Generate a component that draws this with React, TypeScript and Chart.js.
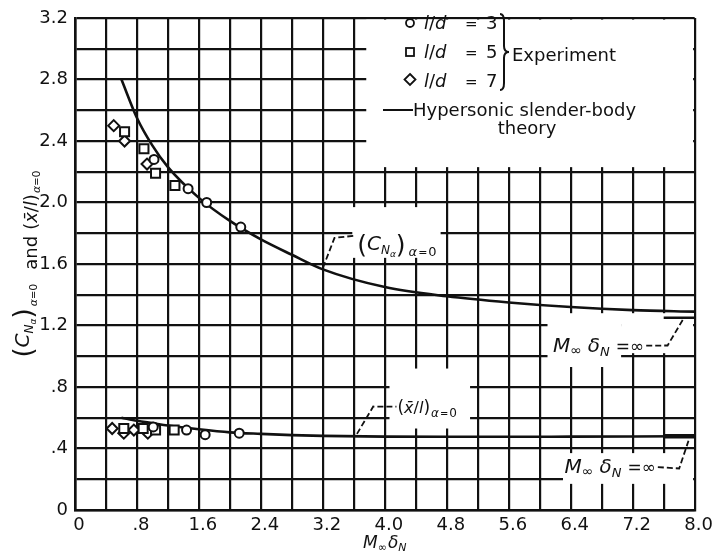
import React, { useEffect, useRef } from "react";
import { Chart, registerables } from "chart.js";

Chart.register(...registerables);

// ---------- axis grid / tick labels ----------
const xGridValues = [0, 0.4, 0.8, 1.2, 1.6, 2.0, 2.4, 2.8, 3.2, 3.6, 4.0, 4.4, 4.8, 5.2, 5.6, 6.0, 6.4, 6.8, 7.2, 7.6, 8.0];
const xTickLabels = ["0", "", ".8", "", "1.6", "", "2.4", "", "3.2", "", "4.0", "", "4.8", "", "5.6", "", "6.4", "", "7.2", "", "8.0"];
const yGridValues = [0, 0.2, 0.4, 0.6, 0.8, 1.0, 1.2, 1.4, 1.6, 1.8, 2.0, 2.2, 2.4, 2.6, 2.8, 3.0, 3.2];
const yTickLabels = ["0", "", ".4", "", ".8", "", "1.2", "", "1.6", "", "2.0", "", "2.4", "", "2.8", "", "3.2"];

// ---------- hypersonic slender-body theory ----------
const theoryX = [0.6, 0.8, 1.0, 1.2, 1.6, 2.0, 2.4, 2.8, 3.2, 4.0, 4.8, 5.6, 6.4, 7.2, 8.0];
const theoryCN = [2.8, 2.55, 2.37, 2.23, 2.03, 1.88, 1.76, 1.66, 1.565, 1.45, 1.39, 1.35, 1.32, 1.3, 1.29];
const theoryXbar = [0.6, 0.58, 0.565, 0.55, 0.525, 0.505, 0.495, 0.487, 0.482, 0.477, 0.476, 0.476, 0.477, 0.478, 0.48];

// M∞δN = ∞ limits
const infinityX = [7.6, 8.0];
const cnInfinity = 1.25;
const xbarInfinity = 0.48;

// ---------- experiment ----------
// l/d = 3 (circles)
const circleCNX = [1.02, 1.46, 1.7, 2.14];
const circleCN = [2.28, 2.09, 2.0, 1.84];
const circleXbarX = [1.01, 1.44, 1.68, 2.12];
const circleXbar = [0.54, 0.52, 0.49, 0.5];
// l/d = 5 (squares)
const squareCNX = [0.64, 0.89, 1.04, 1.29];
const squareCN = [2.46, 2.35, 2.19, 2.11];
const squareXbarX = [0.63, 0.88, 1.04, 1.28];
const squareXbar = [0.53, 0.53, 0.52, 0.52];
// l/d = 7 (diamonds)
const diamondCNX = [0.5, 0.64, 0.93];
const diamondCN = [2.5, 2.4, 2.25];
const diamondXbarX = [0.48, 0.63, 0.76, 0.94];
const diamondXbar = [0.53, 0.5, 0.52, 0.5];

// ---------- annotation anchors (data units) ----------
const cnLeader = [[3.2, 1.575], [3.35, 1.77], [3.63, 1.785]];
const xbarLeader = [[3.64, 0.495], [3.85, 0.673], [4.15, 0.672]];
const mInfUpperAt = [6.17, 1.03];
const mInfUpperLeader = [[7.65, 1.07], [7.85, 1.24]];
const mInfLowerAt = [6.32, 0.24];
const mInfLowerLeader = [[7.8, 0.27], [7.92, 0.45]];
// white paste-over patches [xMin, xMax, yMin, yMax]
const patchRects = [
  [3.76, 8.0, 2.23, 3.2],
  [3.58, 4.72, 1.64, 1.97],
  [4.06, 5.1, 0.53, 0.92],
  [6.1, 7.05, 0.93, 1.28],
  [7.05, 8.0, 1.02, 1.28],
  [6.3, 8.0, 0.17, 0.37],
];

const INK = "#111";
const FAM = '"DejaVu Sans"';

type Seg = { t: string; size: number; italic?: boolean; dy?: number; gap?: number };

function segFont(s: Seg) {
  return `${s.italic ? "italic " : ""}${s.size}px ${FAM}`;
}

function richWidth(ctx: CanvasRenderingContext2D, segs: Seg[]) {
  let w = 0;
  for (const s of segs) {
    ctx.font = segFont(s);
    w += (s.gap || 0) + ctx.measureText(s.t).width;
  }
  return w;
}

function drawRich(ctx: CanvasRenderingContext2D, x: number, y: number, segs: Seg[], center = false) {
  let cx = center ? x - richWidth(ctx, segs) / 2 : x;
  ctx.textBaseline = "alphabetic";
  ctx.textAlign = "left";
  for (const s of segs) {
    ctx.font = segFont(s);
    cx += s.gap || 0;
    ctx.fillText(s.t, cx, y + (s.dy || 0));
    cx += ctx.measureText(s.t).width;
  }
  return cx;
}

const toPts = (xs: number[], ys: number[]) => xs.map((x, i) => ({ x, y: ys[i] }));

const annotPlugin = {
  id: "annot",
  beforeDatasetsDraw(chart: any) {
    const { ctx, chartArea: a } = chart;
    const sx = chart.scales.x;
    const sy = chart.scales.y;
    ctx.save();
    ctx.fillStyle = "#fff";
    for (const [x0, x1, y0, y1] of patchRects) {
      const l = Math.max(sx.getPixelForValue(x0), a.left + 1.6);
      const r = Math.min(sx.getPixelForValue(x1), a.right - 1.6);
      const t = Math.max(sy.getPixelForValue(y1), a.top + 1.6);
      const b = Math.min(sy.getPixelForValue(y0), a.bottom - 1.6);
      ctx.fillRect(l, t, r - l, b - t);
    }
    ctx.restore();
  },
  afterDatasetsDraw(chart: any) {
    const { ctx, chartArea: a } = chart;
    const sx = chart.scales.x;
    const sy = chart.scales.y;
    const P = (p: number[]) => [sx.getPixelForValue(p[0]), sy.getPixelForValue(p[1])];
    ctx.save();
    ctx.fillStyle = INK;
    ctx.strokeStyle = INK;

    // ---- legend ----
    const L = a.left;
    const T = a.top;
    ctx.lineWidth = 1.8;
    ctx.beginPath();
    ctx.arc(L + 335, T + 5, 4, 0, Math.PI * 2);
    ctx.stroke();
    ctx.strokeRect(L + 331, T + 30, 8, 8);
    ctx.beginPath();
    ctx.moveTo(L + 335, T + 56);
    ctx.lineTo(L + 340.5, T + 61.5);
    ctx.lineTo(L + 335, T + 67);
    ctx.lineTo(L + 329.5, T + 61.5);
    ctx.closePath();
    ctx.stroke();
    const rows = [["3", 11], ["5", 40], ["7", 69]] as [string, number][];
    for (const [n, dy] of rows) {
      drawRich(ctx, L + 349, T + dy, [{ t: "l", size: 18, italic: true }, { t: "/", size: 18 }, { t: "d", size: 18, italic: true }]);
      drawRich(ctx, L + 390, T + dy, [{ t: "=", size: 15 }]);
      drawRich(ctx, L + 411, T + dy, [{ t: n, size: 18 }]);
    }
    // brace
    const bx = L + 425;
    const top = T - 4;
    const bot = T + 72;
    const mid = T + 34;
    ctx.lineWidth = 2;
    ctx.beginPath();
    ctx.moveTo(bx, top);
    ctx.quadraticCurveTo(bx + 4, top, bx + 4, top + 7);
    ctx.lineTo(bx + 4, mid - 6);
    ctx.quadraticCurveTo(bx + 4, mid, bx + 9, mid);
    ctx.quadraticCurveTo(bx + 4, mid, bx + 4, mid + 6);
    ctx.lineTo(bx + 4, bot - 7);
    ctx.quadraticCurveTo(bx + 4, bot, bx, bot);
    ctx.stroke();
    drawRich(ctx, L + 437, T + 43, [{ t: "Experiment", size: 18 }]);
    ctx.lineWidth = 2;
    ctx.beginPath();
    ctx.moveTo(L + 308, T + 92);
    ctx.lineTo(L + 338, T + 92);
    ctx.stroke();
    drawRich(ctx, L + 338, T + 98, [{ t: "Hypersonic slender-body", size: 18 }]);
    drawRich(ctx, L + 452, T + 116, [{ t: "theory", size: 18 }], true);

    // ---- leaders ----
    const dashLine = (pts: number[][]) => {
      ctx.save();
      ctx.lineWidth = 1.8;
      ctx.setLineDash([6, 3]);
      ctx.beginPath();
      pts.forEach((p, i) => (i ? ctx.lineTo(p[0], p[1]) : ctx.moveTo(p[0], p[1])));
      ctx.stroke();
      ctx.restore();
    };
    const cnPts = cnLeader.map(P);
    dashLine(cnPts);
    const cnEnd = cnPts[cnPts.length - 1];
    drawRich(ctx, cnEnd[0] + 1, cnEnd[1] + 14, [
      { t: "(", size: 25, dy: 3 },
      { t: "C", size: 20, italic: true },
      { t: "N", size: 12, italic: true, dy: 4 },
      { t: "α", size: 9, italic: true, dy: 7 },
      { t: ")", size: 25, dy: 3 },
      { t: "α", size: 13, italic: true, dy: 6, gap: 3 },
      { t: "=", size: 11, dy: 6, gap: 1 },
      { t: "0", size: 13, dy: 6, gap: 1 },
    ]);
    const xbPts = xbarLeader.map(P);
    dashLine(xbPts);
    const xbEnd = xbPts[xbPts.length - 1];
    drawRich(ctx, xbEnd[0] + 1, xbEnd[1] + 6, [
      { t: "(", size: 17 },
      { t: "x\u0304", size: 16, italic: true },
      { t: "/", size: 16 },
      { t: "l", size: 16, italic: true },
      { t: ")", size: 17 },
      { t: "α", size: 12, italic: true, dy: 4, gap: 1 },
      { t: "=", size: 10, dy: 4, gap: 1 },
      { t: "0", size: 12, dy: 4, gap: 1 },
    ]);
    const mSegs: Seg[] = [
      { t: "M", size: 20, italic: true },
      { t: "∞", size: 14, dy: 3 },
      { t: "δ", size: 20, italic: true, gap: 6 },
      { t: "N", size: 13, italic: true, dy: 4 },
      { t: "=∞", size: 17, gap: 6 },
    ];
    const mu = P(mInfUpperAt);
    const muEnd = drawRich(ctx, mu[0], mu[1], mSegs);
    dashLine([[muEnd + 2, mu[1] - 6], ...mInfUpperLeader.map(P)]);
    const ml = P(mInfLowerAt);
    const mlEnd = drawRich(ctx, ml[0], ml[1], mSegs);
    dashLine([[mlEnd + 2, ml[1] - 6], ...mInfLowerLeader.map(P)]);

    // ---- axis titles ----
    drawRich(ctx, (a.left + a.right) / 2, 548, [
      { t: "M", size: 17, italic: true },
      { t: "∞", size: 11, dy: 3 },
      { t: "δ", size: 17, italic: true, gap: 1 },
      { t: "N", size: 11, italic: true, dy: 3 },
    ], true);
    ctx.save();
    ctx.translate(37, (a.top + a.bottom) / 2);
    ctx.rotate(-Math.PI / 2);
    drawRich(ctx, 0, 0, [
      { t: "(", size: 26, dy: -5 },
      { t: "C", size: 20, italic: true, dy: -8 },
      { t: "N", size: 12, italic: true, dy: -4 },
      { t: "α", size: 9, italic: true, dy: -1 },
      { t: ")", size: 26, dy: -5 },
      { t: "α", size: 11, italic: true, gap: 2 },
      { t: "=", size: 10 },
      { t: "0", size: 11 },
      { t: "and", size: 18, gap: 14 },
      { t: "(", size: 18, gap: 6 },
      { t: "x\u0304", size: 18, italic: true },
      { t: "/", size: 18 },
      { t: "l", size: 18, italic: true },
      { t: ")", size: 18 },
      { t: "α", size: 11, italic: true, dy: 3, gap: 1 },
      { t: "=", size: 10, dy: 3 },
      { t: "0", size: 11, dy: 3 },
    ], true);
    ctx.restore();
    ctx.restore();
  },
};

export default function App() {
  const ref = useRef<HTMLCanvasElement | null>(null);
  useEffect(() => {
    if (!ref.current) return;
    const lineDs = (data: any[], width: number) => ({
      data,
      showLine: true,
      borderColor: INK,
      borderWidth: width,
      pointRadius: 0,
      cubicInterpolationMode: "monotone",
      order: 3,
    });
    const ptDs = (data: any[], style: string, radius: number) => ({
      data,
      showLine: false,
      pointStyle: style,
      pointRadius: radius,
      pointBorderWidth: 2,
      pointBorderColor: INK,
      pointBackgroundColor: "#fff",
      order: 1,
    });
    const chart = new Chart(ref.current, {
      type: "scatter",
      data: {
        datasets: [
          lineDs(toPts(theoryX, theoryCN), 2.6),
          lineDs(toPts(theoryX, theoryXbar), 2.6),
          lineDs(toPts(infinityX, infinityX.map(() => cnInfinity)), 2.4),
          lineDs(toPts(infinityX, infinityX.map(() => xbarInfinity)), 4.5),
          ptDs(toPts(circleCNX, circleCN), "circle", 4.5),
          ptDs(toPts(circleXbarX, circleXbar), "circle", 4.5),
          ptDs(toPts(squareCNX, squareCN), "rect", 6.4),
          ptDs(toPts(squareXbarX, squareXbar), "rect", 6.4),
          ptDs(toPts(diamondCNX, diamondCN), "rectRot", 5.5),
          ptDs(toPts(diamondXbarX, diamondXbar), "rectRot", 5.5),
        ] as any,
      },
      options: {
        responsive: false,
        animation: false,
        devicePixelRatio: 1,
        events: [],
        layout: { padding: { left: 0, right: 19, top: 18, bottom: 0 } },
        plugins: { legend: { display: false }, tooltip: { enabled: false }, title: { display: false } },
        scales: {
          x: {
            type: "linear",
            min: 0,
            max: 8,
            afterBuildTicks: (s: any) => {
              s.ticks = xGridValues.map((v) => ({ value: v }));
            },
            afterFit: (s: any) => {
              s.height = 42;
            },
            ticks: {
              autoSkip: false,
              maxRotation: 0,
              padding: 5,
              labelOffset: 4,
              color: INK,
              font: { family: "DejaVu Sans", size: 18 },
              callback: (_v: any, i: number) => xTickLabels[i],
            },
            grid: { color: INK, lineWidth: 2.2, drawTicks: false },
            border: { display: true, color: INK, width: 2.6 },
          },
          y: {
            type: "linear",
            min: 0,
            max: 3.2,
            afterBuildTicks: (s: any) => {
              s.ticks = yGridValues.map((v) => ({ value: v }));
            },
            afterFit: (s: any) => {
              s.width = 75;
            },
            ticks: {
              autoSkip: false,
              padding: 7,
              color: INK,
              font: { family: "DejaVu Sans", size: 18 },
              callback: (_v: any, i: number) => yTickLabels[i],
            },
            grid: { color: INK, lineWidth: 2.2, drawTicks: false },
            border: { display: true, color: INK, width: 2.6 },
          },
        },
      } as any,
      plugins: [annotPlugin],
    });
    return () => chart.destroy();
  }, []);
  return (
    <div style={{ position: "absolute", left: 0, top: 0, width: 714, height: 552, background: "#fff" }}>
      <canvas ref={ref} width={714} height={552} style={{ display: "block" }} />
    </div>
  );
}
